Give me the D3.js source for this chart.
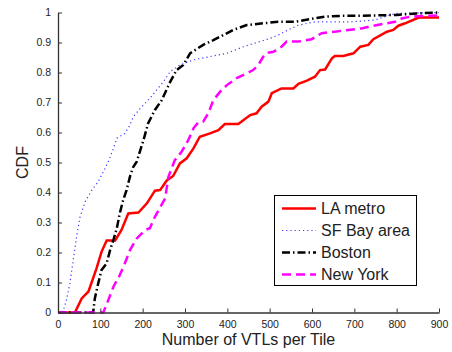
<!DOCTYPE html>
<html lang="en">
<head>
  <meta charset="UTF-8">
  <title>CDF of VTLs per Tile</title>
  <script src="https://d3js.org/d3.v7.min.js"></script>
  <style>
    html, body {
      margin: 0;
      padding: 0;
      background: #fff;
    }
    text {
      font-family: "Liberation Sans", Arial, Helvetica, sans-serif;
      fill: #222;
    }
    .line {
      fill: none;
    }
  </style>
</head>
<body>
  <div id="container"></div>
  <script>
    const width = 452;
    const height = 352;

    // plot area in pixels
    const margin = {top: 12.5, right: 13, bottom: 39.5, left: 58};

    const xTicks = [0, 100, 200, 300, 400, 500, 600, 700, 800, 900];
    const yTicks = [0, 0.1, 0.2, 0.3, 0.4, 0.5, 0.6, 0.7, 0.8, 0.9, 1];

    const seriesNames = ['LA metro', 'SF Bay area', 'Boston', 'New York'];

    // LA metro
    const laX = [0, 40, 56, 72, 91, 103, 115, 135, 150, 166, 190, 210, 229, 241, 257, 272, 288, 304, 320, 335, 359, 379, 394, 426, 454, 469, 481, 497, 505, 528, 556, 568, 588, 607, 619, 631, 647, 654, 674, 698, 714, 733, 745, 777, 792, 804, 820, 852, 900];
    const laY = [0, 0, 0.047, 0.07, 0.147, 0.203, 0.24, 0.24, 0.275, 0.33, 0.333, 0.364, 0.406, 0.408, 0.44, 0.455, 0.497, 0.514, 0.547, 0.586, 0.597, 0.608, 0.628, 0.628, 0.658, 0.664, 0.686, 0.703, 0.731, 0.747, 0.747, 0.762, 0.773, 0.786, 0.808, 0.81, 0.847, 0.855, 0.855, 0.864, 0.886, 0.892, 0.911, 0.936, 0.942, 0.956, 0.964, 0.983, 0.983];

    // SF Bay area
    const sfX = [0, 10, 13, 20, 28, 36, 44, 52, 64, 80, 95, 107, 119, 131, 139, 158, 170, 178, 198, 217, 233, 249, 265, 288, 320, 359, 399, 438, 477, 501, 520, 544, 568, 607, 694, 749, 780, 800, 900];
    const sfY = [0, 0, 0.008, 0.042, 0.097, 0.175, 0.253, 0.319, 0.369, 0.408, 0.436, 0.469, 0.503, 0.547, 0.581, 0.597, 0.625, 0.653, 0.686, 0.714, 0.742, 0.769, 0.803, 0.825, 0.842, 0.853, 0.864, 0.886, 0.903, 0.914, 0.925, 0.942, 0.958, 0.969, 0.969, 0.975, 0.99, 0.997, 1.0];

    // Boston
    const bosX = [0, 83, 87, 95, 103, 115, 123, 131, 139, 146, 154, 162, 170, 178, 186, 202, 213, 229, 245, 265, 280, 296, 312, 343, 367, 391, 414, 446, 485, 520, 560, 595, 631, 670, 717, 800, 847, 900];
    const bosY = [0, 0, 0.047, 0.097, 0.142, 0.164, 0.208, 0.242, 0.281, 0.331, 0.375, 0.408, 0.453, 0.486, 0.503, 0.575, 0.631, 0.675, 0.708, 0.769, 0.808, 0.825, 0.864, 0.892, 0.908, 0.925, 0.942, 0.958, 0.964, 0.969, 0.969, 0.978, 0.986, 0.989, 0.989, 0.992, 0.997, 1.0];

    // New York
    const nyX = [0, 107, 119, 131, 146, 158, 170, 186, 206, 217, 229, 241, 253, 261, 276, 292, 308, 320, 331, 343, 355, 367, 383, 399, 422, 446, 461, 473, 485, 493, 509, 528, 540, 568, 599, 623, 654, 686, 717, 745, 777, 796, 812, 832, 855, 900];
    const nyY = [0, 0, 0.042, 0.086, 0.125, 0.164, 0.208, 0.247, 0.275, 0.281, 0.319, 0.35, 0.38, 0.453, 0.508, 0.536, 0.575, 0.614, 0.633, 0.636, 0.664, 0.708, 0.736, 0.758, 0.781, 0.797, 0.808, 0.825, 0.853, 0.865, 0.869, 0.886, 0.903, 0.903, 0.911, 0.931, 0.936, 0.942, 0.947, 0.956, 0.964, 0.969, 0.98, 0.986, 0.988, 0.99];

    const styles = [
      {color: '#ff0000', width: 2.5, dash: ''},
      {color: '#3a3aff', width: 1.2, dash: '1.2 3'},
      {color: '#000000', width: 2.5, dash: '8 3 1.5 3'},
      {color: '#ff00ff', width: 2.5, dash: '9 5'}
    ];

    const series = [[laX, laY], [sfX, sfY], [bosX, bosY], [nyX, nyY]].map(([xs, ys], i) => ({
      name: seriesNames[i],
      values: xs.map((x, j) => ({x: x, y: ys[j]})),
      style: styles[i]
    }));

    const svg = d3.select('#container').append('svg')
      .attr('width', width).attr('height', height)
      .style('display', 'block');

    const xScale = d3.scaleLinear().domain([0, 900]).range([margin.left, width - margin.right]);
    const yScale = d3.scaleLinear().domain([0, 1]).range([height - margin.bottom, margin.top]);

    const line = d3.line().x(d => xScale(d.x)).y(d => yScale(d.y));

    // Lines
    svg.selectAll('.line').data(series).enter().append('path')
      .attr('class', 'line')
      .attr('d', d => line(d.values))
      .style('stroke', d => d.style.color)
      .style('stroke-width', d => d.style.width)
      .style('stroke-dasharray', d => d.style.dash);

    // Axes, ticks pointing inward like matlab
    const xAxis = d3.axisBottom(xScale).tickValues(xTicks).tickSizeInner(-4).tickSizeOuter(0).tickPadding(8);
    const yAxis = d3.axisLeft(yScale).tickValues(yTicks).tickSizeInner(-4).tickSizeOuter(0).tickPadding(7)
      .tickFormat(d => d === 0 || d === 1 ? d3.format('d')(d) : d3.format('.1f')(d));

    const gx = svg.append('g').attr('class', 'x-axis')
      .attr('transform', `translate(0,${height - margin.bottom})`).call(xAxis);
    const gy = svg.append('g').attr('class', 'y-axis')
      .attr('transform', `translate(${margin.left},0)`).call(yAxis);

    [gx, gy].forEach(g => {
      g.select('.domain').attr('stroke', '#333').attr('stroke-width', 1.3);
      g.selectAll('.tick line').attr('stroke', '#333').attr('stroke-width', 1);
      g.selectAll('.tick text').style('font-size', '10.5px').attr('fill', '#222');
    });

    // Axis labels
    svg.append('text')
      .attr('x', (xScale(0) + xScale(900)) / 2)
      .attr('y', 345)
      .attr('text-anchor', 'middle')
      .style('font-size', '16px')
      .text('Number of VTLs per Tile');

    svg.append('text')
      .attr('transform', `translate(28,${(yScale(0) + yScale(1)) / 2}) rotate(-90)`)
      .attr('text-anchor', 'middle')
      .style('font-size', '16px')
      .text('CDF');

    // Legend
    const legend = svg.append('g').attr('class', 'legend');
    legend.append('rect')
      .attr('x', 274.5).attr('y', 195.5)
      .attr('width', 142).attr('height', 90)
      .attr('fill', '#fff').attr('stroke', '#000').attr('stroke-width', 1);

    const items = legend.selectAll('.item').data(series).enter().append('g')
      .attr('class', 'item')
      .attr('transform', (d, i) => `translate(0,${208.5 + i * 22})`);

    items.append('line')
      .attr('x1', 282).attr('x2', 316)
      .style('stroke', d => d.style.color)
      .style('stroke-width', d => d.style.width)
      .style('stroke-dasharray', d => d.style.dash);

    items.append('text')
      .attr('x', 321).attr('y', 5.5)
      .style('font-size', '16px')
      .text(d => d.name);
  </script>
</body>
</html>
